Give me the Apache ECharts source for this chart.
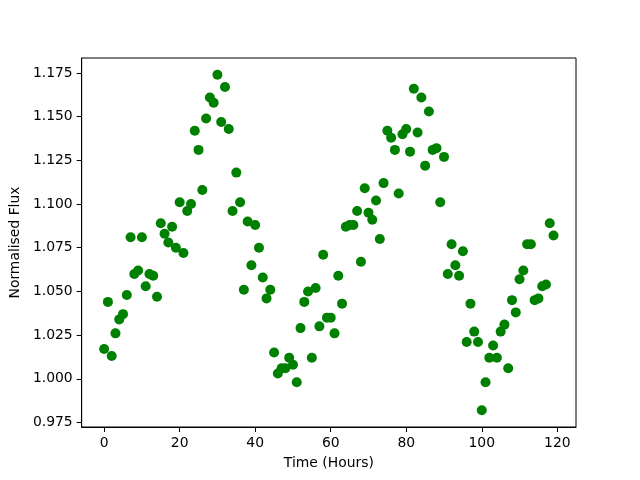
<!DOCTYPE html>
<html>
<head>
<meta charset="utf-8">
<script src="https://cdn.jsdelivr.net/npm/echarts@6/dist/echarts.min.js"></script>
<style>html,body{margin:0;padding:0;background:#fff}#c{width:640px;height:480px}</style>
</head>
<body>
<div id="c"></div>
<script>
const hours = [];
for (let i = 0; i < 120; i++) hours.push(i);
const flux = [
1.017,1.044,1.013,1.026,1.034,1.037,1.048,1.081,1.060,1.062,
1.081,1.053,1.060,1.059,1.047,1.089,1.083,1.078,1.087,1.075,
1.101,1.072,1.096,1.100,1.142,1.131,1.108,1.149,1.161,1.158,
1.174,1.147,1.167,1.143,1.096,1.118,1.101,1.051,1.090,1.065,
1.088,1.075,1.058,1.046,1.051,1.015,1.003,1.006,1.006,1.012,
1.008,0.998,1.029,1.044,1.050,1.012,1.052,1.030,1.071,1.035,
1.035,1.026,1.059,1.043,1.087,1.088,1.088,1.096,1.067,1.109,
1.095,1.091,1.102,1.080,1.112,1.142,1.138,1.131,1.106,1.140,
1.143,1.130,1.166,1.141,1.161,1.122,1.153,1.131,1.132,1.101,
1.127,1.060,1.077,1.065,1.059,1.073,1.021,1.043,1.027,1.021,
0.982,0.998,1.012,1.019,1.012,1.027,1.031,1.006,1.045,1.038,
1.057,1.062,1.077,1.077,1.045,1.046,1.053,1.054,1.089,1.082
];
const xTicks = [0,20,40,60,80,100,120];
const yTicks = [0.975,1.000,1.025,1.050,1.075,1.100,1.125,1.150,1.175];

const font = 'DejaVu Sans';
const chart = echarts.init(document.getElementById('c'), null, {renderer:'canvas'});
chart.setOption({
  animation:false,
  backgroundColor:'#fff',
  grid:{left:80,right:64,top:58,bottom:53,show:true,borderColor:'#000',borderWidth:1,backgroundColor:'transparent'},
  xAxis:{
    type:'value', min:-5.95, max:124.95,
    name:'Time (Hours)', nameLocation:'middle', nameGap:29,
    nameTextStyle:{fontFamily:font,fontSize:13.9,color:'#000'},
    axisLine:{show:true,onZero:false,lineStyle:{color:'#000',width:1}},
    axisTick:{show:true,length:5,inside:false,customValues:xTicks,lineStyle:{color:'#000'}},
    axisLabel:{fontFamily:font,fontSize:13.9,color:'#000',margin:9,customValues:xTicks,formatter:v=>String(Math.round(v))},
    splitLine:{show:false}
  },
  yAxis:{
    type:'value', min:0.9724, max:1.1836,
    name:'Normalised Flux', nameLocation:'middle', nameGap:54,
    nameTextStyle:{fontFamily:font,fontSize:13.9,color:'#000'},
    axisLine:{show:true,onZero:false,lineStyle:{color:'#000',width:1}},
    axisTick:{show:true,length:5,inside:false,customValues:yTicks,lineStyle:{color:'#000'}},
    axisLabel:{fontFamily:font,fontSize:13.9,color:'#000',margin:9,customValues:yTicks,formatter:v=>v.toFixed(3)},
    splitLine:{show:false}
  },
  series:[{
    type:'scatter',
    data:hours.map((h,i)=>[h,flux[i]]),
    symbol:'circle', symbolSize:10,
    itemStyle:{color:'#008000',opacity:1}
  }]
});
</script>
</body>
</html>
